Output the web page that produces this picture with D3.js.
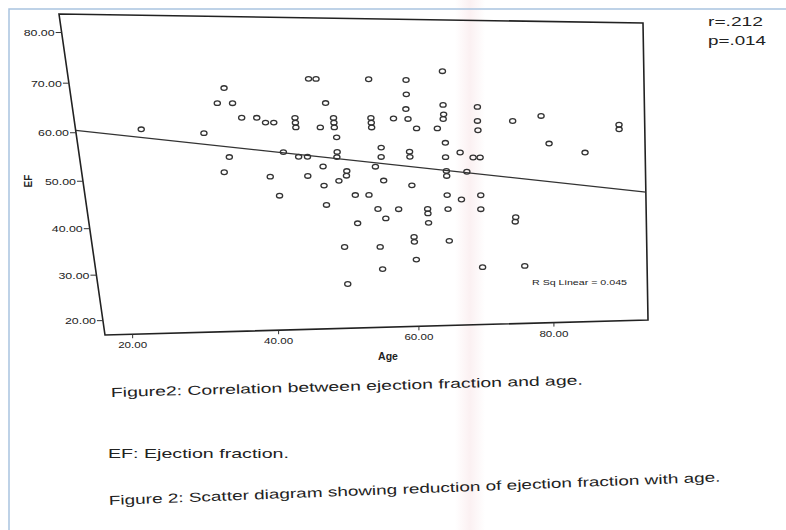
<!DOCTYPE html>
<html lang="en">
<head>
<meta charset="UTF-8">
<title>EF vs Age</title>
<script src="https://d3js.org/d3.v7.min.js"></script>
<style>
body { margin: 0; background: #fff; }
text { font-family: "Liberation Sans", Arial, sans-serif; fill: #222; }
</style>
</head>
<body>
<script>
// values (age in years, EF in %)
var ages = [24.7, 32.8, 36.1, 35.0, 37.0, 38.0, 40.0, 41.1, 42.2, 45.1,
            45.1, 45.1, 47.4, 48.4, 49.4, 48.4, 50.3, 50.3, 50.3, 50.5,
            55.5, 55.4, 55.4, 55.4, 58.5, 56.5, 56.4, 35.8, 34.9, 43.1,
            45.1, 46.3, 50.4, 50.3, 55.5, 41.0, 46.1, 48.3, 51.5, 51.4,
            50.3, 48.2, 56.5, 42.0, 52.4, 54.3, 48.3, 55.4, 58.3, 56.4,
            52.4, 50.3, 55.3, 55.4, 50.3, 60.4, 65.3, 67.3, 62.4, 62.4,
            65.3, 62.4, 60.2, 60.2, 65.2, 60.3, 70.1, 70.0, 75.0, 74.9,
            69.8, 76.0, 60.6, 65.7, 60.5, 60.3, 65.5, 65.5, 65.4, 60.5,
            61.6, 64.5, 65.5, 60.4, 60.4, 65.4, 67.5, 69.3, 70.3, 65.4,
            65.4, 68.3, 70.3, 70.2, 70.2, 75.2, 79.3, 90.6, 90.6, 80.3,
            85.5];
var efs = [60.7, 59.9, 69.2, 66.1, 66.1, 63.1, 63.1, 62.1, 62.1, 63.1,
           62.1, 61.1, 71.2, 71.2, 66.2, 61.1, 63.1, 62.1, 61.1, 59.0,
           71.2, 63.1, 62.1, 61.1, 63.0, 56.8, 54.8, 54.9, 51.7, 55.9,
           54.9, 54.9, 55.9, 54.8, 52.7, 50.7, 50.8, 52.8, 51.8, 50.8,
           49.7, 48.7, 49.7, 46.6, 46.6, 46.6, 44.5, 43.5, 43.4, 41.4,
           40.4, 35.2, 35.1, 30.1, 26.9, 48.6, 46.4, 45.4, 43.4, 42.4,
           43.3, 40.3, 37.2, 36.1, 36.2, 32.1, 46.3, 43.2, 41.3, 40.3,
           30.1, 30.2, 71.1, 73.0, 68.1, 65.0, 65.9, 63.9, 62.9, 62.9,
           60.9, 60.9, 57.8, 55.9, 54.8, 54.7, 55.7, 54.6, 54.6, 51.7,
           50.6, 51.5, 65.5, 62.5, 60.5, 62.5, 63.6, 61.7, 60.7, 57.6,
           55.6];
var xTicks = [20, 40, 60, 80];
var yTicks = [20, 30, 40, 50, 60, 70, 80];
var fitIntercept = 63.38, fitSlope = -0.177;
var rText = "r=.212", pText = "p=.014", rsqText = "R Sq Linear = 0.045";
var captions = ["Figure2: Correlation between ejection fraction and age.",
                "EF: Ejection fraction.",
                "Figure 2: Scatter diagram showing reduction of ejection fraction with age."];

var width = 786, height = 530;

// the page was photographed at an angle: plot frame corners TL, TR, BR, BL
var corners = [[59, 14], [643, 23], [648, 320], [105, 335]];

var x = d3.scaleLinear().domain([16.3, 94.4]).range([0, 1]);
var y = d3.scaleLinear().domain([16.8, 83.6]).range([1, 0]);

// unit square -> quad
var H = (function(q) {
  var x0 = q[0][0], y0 = q[0][1], x1 = q[1][0], y1 = q[1][1],
      x2 = q[2][0], y2 = q[2][1], x3 = q[3][0], y3 = q[3][1];
  var dx1 = x1 - x2, dx2 = x3 - x2, dx3 = x0 - x1 + x2 - x3;
  var dy1 = y1 - y2, dy2 = y3 - y2, dy3 = y0 - y1 + y2 - y3;
  var den = dx1 * dy2 - dx2 * dy1;
  var g = (dx3 * dy2 - dx2 * dy3) / den;
  var h = (dx1 * dy3 - dx3 * dy1) / den;
  return {a: x1 - x0 + g * x1, b: x3 - x0 + h * x3, c: x0,
          d: y1 - y0 + g * y1, e: y3 - y0 + h * y3, f: y0, g: g, h: h};
})(corners);

function warp(u, v) {
  var w = H.g * u + H.h * v + 1;
  return [(H.a * u + H.b * v + H.c) / w, (H.d * u + H.e * v + H.f) / w];
}
function pt(age, ef) { return warp(x(age), y(ef)); }

var svg = d3.select("body").append("svg")
  .attr("width", width)
  .attr("height", height);

// pale pink streak on the paper
var grad = svg.append("defs").append("linearGradient").attr("id", "streak");
grad.append("stop").attr("offset", "0%").attr("stop-color", "#f6dfe2").attr("stop-opacity", 0);
grad.append("stop").attr("offset", "50%").attr("stop-color", "#f6dfe2").attr("stop-opacity", 0.45);
grad.append("stop").attr("offset", "100%").attr("stop-color", "#f6dfe2").attr("stop-opacity", 0);
svg.append("rect").attr("x", 455).attr("y", 0).attr("width", 30).attr("height", height)
  .attr("fill", "url(#streak)");

// light blue page border
svg.append("rect").attr("x", 9).attr("y", 9).attr("width", width).attr("height", height)
  .attr("fill", "none").attr("stroke", "#a9c3df").attr("stroke-width", 1.5);

var g = svg.append("g");

// frame
var frame = [warp(0, 0), warp(1, 0), warp(1, 1), warp(0, 1)];
g.append("path")
  .attr("d", "M" + frame.join("L") + "Z")
  .attr("fill", "none")
  .attr("stroke", "#222")
  .attr("stroke-width", 1.6);

var fmt = d3.format(".2f");

// y ticks
yTicks.forEach(function(t) {
  var p = warp(0, y(t));
  g.append("line").attr("x1", p[0]).attr("y1", p[1]).attr("x2", p[0] - 6).attr("y2", p[1])
    .attr("stroke", "#333").attr("stroke-width", 1);
  g.append("text").attr("x", p[0] - 7).attr("y", p[1] + 3.5)
    .attr("text-anchor", "end").style("font-size", "9.5px")
    .attr("textLength", 31).attr("lengthAdjust", "spacingAndGlyphs")
    .text(fmt(t));
});

// x ticks
xTicks.forEach(function(t) {
  var p = warp(x(t), 1);
  g.append("line").attr("x1", p[0]).attr("y1", p[1]).attr("x2", p[0]).attr("y2", p[1] + 4)
    .attr("stroke", "#333").attr("stroke-width", 1);
  g.append("text").attr("x", p[0]).attr("y", p[1] + 14)
    .attr("text-anchor", "middle").style("font-size", "9.5px")
    .attr("textLength", 29).attr("lengthAdjust", "spacingAndGlyphs")
    .text(fmt(t));
});

// axis titles
g.append("text").attr("x", 388).attr("y", 360).attr("text-anchor", "middle")
  .style("font-size", "10.5px").style("font-weight", "bold").text("Age");
g.append("text").attr("transform", "translate(32,181) rotate(-90)").attr("text-anchor", "middle")
  .style("font-size", "10px").style("font-weight", "bold").text("EF");

// linear fit
var a0 = x.domain()[0], a1 = x.domain()[1];
var f0 = pt(a0, fitIntercept + fitSlope * a0), f1 = pt(a1, fitIntercept + fitSlope * a1);
g.append("line").attr("x1", f0[0]).attr("y1", f0[1]).attr("x2", f1[0]).attr("y2", f1[1])
  .attr("stroke", "#333").attr("stroke-width", 1.2);

// points
g.selectAll("ellipse.pt")
  .data(ages.map(function(a, i) { return [a, efs[i]]; }))
  .enter().append("ellipse")
  .attr("class", "pt")
  .attr("cx", function(d) { return pt(d[0], d[1])[0]; })
  .attr("cy", function(d) { return pt(d[0], d[1])[1]; })
  .attr("rx", 3.1)
  .attr("ry", 2.3)
  .attr("fill", "none")
  .attr("stroke", "#333")
  .attr("stroke-width", 1.3);

g.append("text").attr("x", 532).attr("y", 284.5).style("font-size", "8px")
  .attr("textLength", 95).attr("lengthAdjust", "spacingAndGlyphs").text(rsqText);

// stats
svg.append("text").attr("x", 708).attr("y", 26).style("font-size", "13px")
  .attr("textLength", 55).attr("lengthAdjust", "spacingAndGlyphs").text(rText);
svg.append("text").attr("x", 708).attr("y", 45).style("font-size", "13px")
  .attr("textLength", 58).attr("lengthAdjust", "spacingAndGlyphs").text(pText);

// captions
svg.append("text").attr("transform", "translate(111,397) rotate(-1.5)")
  .style("font-size", "13px").attr("textLength", 472).attr("lengthAdjust", "spacingAndGlyphs")
  .text(captions[0]);
svg.append("text").attr("transform", "translate(108,458)")
  .style("font-size", "13px").attr("textLength", 181).attr("lengthAdjust", "spacingAndGlyphs")
  .text(captions[1]);
svg.append("text").attr("transform", "translate(109,505) rotate(-2.2)")
  .style("font-size", "13px").attr("textLength", 612).attr("lengthAdjust", "spacingAndGlyphs")
  .text(captions[2]);
</script>
</body>
</html>
